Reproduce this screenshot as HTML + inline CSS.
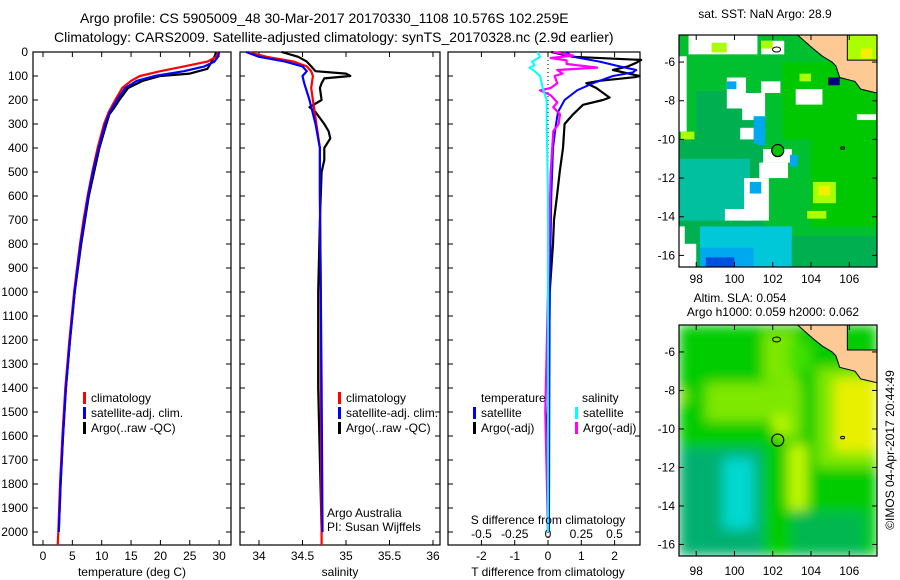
<!DOCTYPE html>
<html><head><meta charset="utf-8"><style>
html,body{margin:0;padding:0;background:#fff;width:900px;height:580px;overflow:hidden}
svg text{font-family:"Liberation Sans",sans-serif;font-size:12px;fill:#000}
</style></head><body>
<svg id="fig" width="900" height="580" xmlns="http://www.w3.org/2000/svg">
<text x="80" y="23" style="font-size:14px">Argo profile: CS 5905009_48 30-Mar-2017 20170330_1108 10.576S 102.259E</text>
<text x="54" y="42" style="font-size:14px">Climatology: CARS2009. Satellite-adjusted climatology: synTS_20170328.nc (2.9d earlier)</text>
</svg>
<script>
// ---------- data ----------
const depthTicks=[0,100,200,300,400,500,600,700,800,900,1000,1100,1200,1300,1400,1500,1600,1700,1800,1900,2000];
const tempTicks=[0,5,10,15,20,25,30];
const salTicks=[34,34.5,35,35.5,36];
const tdiffTicks=[-2,-1,0,1,2];
const sdiffTicks=[-0.5,-0.25,0,0.25,0.5];
const sdiffTickLabels=["-0.5","-0.25","0","0.25","0.5"];

const tClimDepth=[0,20,40,60,80,100,120,150,200,250,300,400,500,600,700,800,900,1000,1200,1400,1600,1800,2000,2054];
const tClim=[29.8,29.5,28,24,20,16.5,15,13.5,12.3,11.2,10.4,9.3,8.4,7.6,6.9,6.3,5.8,5.3,4.5,3.8,3.3,2.9,2.6,2.5];
const tSatDepth=[0,20,40,60,80,100,120,150,200,250,300,400,500,600,800,1000,1200,1400,1600,1800,2000];
const tSat=[30,29.8,29.2,27.5,24,19,16,14,12.6,11.4,10.6,9.5,8.5,7.7,6.4,5.4,4.6,3.9,3.4,3.0,2.7];
const tArgoDepth=[0,20,50,70,90,100,120,150,200,230,260,300,400,500,600,800,1000,1200,1400,1600,1800,1990];
const tArgo=[29.5,29.2,28.5,28,25,20,17,14.5,13,12.2,11.3,10.8,9.6,8.7,7.8,6.5,5.4,4.6,3.9,3.4,3.0,2.7];

const sClimDepth=[0,20,40,60,80,100,150,200,300,400,600,1000,1400,2000,2054];
const sClim=[33.87,34.09,34.4,34.55,34.6,34.62,34.6,34.62,34.66,34.7,34.7,34.71,34.71,34.72,34.72];
const sSatDepth=[0,20,40,60,80,100,130,200,300,400,600,1000,1400,2000];
const sSat=[33.85,34.0,34.3,34.5,34.55,34.5,34.52,34.58,34.65,34.7,34.7,34.71,34.72,34.73];
const sArgoDepth=[0,20,40,60,80,90,100,110,130,150,200,230,250,300,330,360,400,450,500,700,1000,1400,1700,1990];
const sArgo=[34.26,34.45,34.55,34.6,34.65,35.0,35.05,34.75,34.72,34.7,34.72,34.58,34.65,34.75,34.8,34.82,34.75,34.75,34.72,34.7,34.68,34.68,34.7,34.72];

const dTArgoDepth=[0,20,33,45,60,75,100,105,120,130,150,190,200,220,260,300,400,500,600,700,800,1000,1400,1650,1700,2000];
const dTArgo=[0.1,0.75,2.8,2.65,2.4,1.95,2.75,2.6,1.55,1.15,1.45,1.85,1.65,1.05,0.75,0.5,0.45,0.35,0.27,0.18,0.15,0.05,0.02,-0.05,0.0,0.0];
const dTSatDepth=[0,20,40,60,75,85,100,130,160,200,250,300,400,600,1000,1500,2000];
const dTSat=[0.55,0.75,1.55,2.15,2.65,2.55,1.95,1.35,0.87,0.5,0.3,0.24,0.15,0.1,0.05,0.04,0.03];
const dSArgoDepth=[0,15,25,35,50,65,75,90,100,130,150,160,180,210,230,260,300,330,500,1000,1500,2000];
const dSArgo=[0.04,0.19,0.02,0.14,0.14,0.37,0.07,0.11,0.05,0.07,0.02,-0.06,0.02,0.07,0.04,0.09,0.08,0.04,0.02,0.0,-0.02,0.0];
const dSSatDepth=[0,20,40,55,65,80,100,150,200,300,600,1000,2000];
const dSSat=[-0.08,-0.06,-0.12,-0.1,-0.14,-0.1,-0.06,-0.04,-0.01,-0.01,0.0,0.0,0.0];

const lonTicks=[98,100,102,104,106];
const latTicks=[-6,-8,-10,-12,-14,-16];
// SST map patches: [lon0,lat0,lon1,lat1,colorIndex]
const sstColors=["#00c030","#00b050","#00c0a0","#00a8f0","#0050e0","#ffffff","#aaff00","#f0f000","#000080","#00c8d8","#00c800"];
const sstPatches=[
[97.1,-4.6,107.45,-16.6,0],
[102.5,-6,107.45,-10,10],[104,-10,107.45,-14.5,10],[98,-7.5,101,-10,1],
[97.1,-10,101.5,-16.6,1],[97.1,-11,100.8,-14.2,2],[98.2,-14.5,103,-16.6,9],[98.2,-15.6,101,-16.6,3],[98.5,-16.1,100,-16.6,4],[103,-15,107.45,-16.6,1],
[105.9,-4.6,107.45,-5.9,6],[106.6,-5.3,107.2,-5.8,7],
[97.6,-4.6,101.2,-5.6,5],[97.1,-5.7,97.5,-9.6,5],[99.6,-6.8,100.6,-8.4,5],[100.4,-7.6,101.6,-9,5],[101.4,-7,102.4,-7.6,5],[100.3,-9.4,101.2,-10,5],
[101.5,-10.5,103,-11.2,5],[101.3,-11.2,102.8,-12,5],[100.5,-12,101.8,-14.2,5],[99.5,-13.6,100.8,-14.2,5],[97.1,-14.5,97.4,-16.6,5],[97.1,-15.4,98,-16.6,5],
[103.2,-7.4,104.6,-8.2,5],[101.4,-4.9,102.6,-5.6,5],[106.4,-8.7,107.4,-9.0,5],
[98.8,-5,99.6,-5.5,6],[101.4,-4.9,102,-5.3,6],[97.2,-9.6,97.9,-10,6],[103.4,-6.6,104,-7,6],[104.1,-12.2,105.3,-13.3,6],[104.4,-12.4,105,-12.9,7],
[103.8,-13.7,104.8,-14.1,6],[104.9,-6.8,105.5,-7.2,8],
[101,-8.8,101.6,-10.2,3],[102.9,-10.8,103.3,-11.4,3],[100.8,-12.2,101.4,-12.8,3],[99.6,-7,100.1,-7.4,3],[101.2,-9.4,101.6,-10.3,3]
];
// SLA map blobs: [lon0,lat0,lon1,lat1,colorIndex]
const slaColors=["#00cc00","#7ee800","#c0f800","#e8f000","#00d8d0","#00b070","#00b850","#40e000"];
const slaPatches=[
[97.1,-4.6,107.45,-16.6,0],
[97.1,-11,101.5,-16.6,5],[99.4,-11.5,101,-15.2,4],[99.8,-12.3,100.8,-14,4],[103,-14.3,106.8,-16.6,6],
[98.5,-7.6,102.6,-9.6,1],[97.1,-8,97.6,-8.6,1],[101.5,-5,103.2,-7.5,1],[102.2,-7.5,103.5,-10.5,1],[104.3,-6.8,107.45,-12,1],
[102.8,-10.8,103.8,-14.2,2],[105.2,-7.4,107.45,-11.2,3],[102,-9.3,102.8,-10.2,2],[102.8,-5.5,104,-7,7]
];
const argoLon=102.26, argoLat=-10.576;

// ---------- helpers ----------
const NS="http://www.w3.org/2000/svg";
const svg=document.getElementById('fig');
function mk(tag,attrs,parent){const e=document.createElementNS(NS,tag);for(const k in attrs)e.setAttribute(k,attrs[k]);(parent||svg).appendChild(e);return e;}
function txt(x,y,s,anchor,parent){const t=mk('text',{x:x,y:y,'text-anchor':anchor||'start'},parent);t.textContent=s;return t;}

const PT=52, PB=545;
const yD=d=>PT+d*0.24;
const panels=[{x0:33,x1:231},{x0:240,x1:440},{x0:448,x1:640}];
const xT=v=>43+v*5.87, xS=v=>259+(v-34)*87, xTd=v=>548+v*33.3, xSd=v=>548+v*133;

panels.forEach((p,i)=>{
  const r=mk('rect',{x:p.x0,y:PT,width:p.x1-p.x0,height:PB-PT,fill:'none',stroke:'#000','stroke-width':1.2});
  
  
  depthTicks.forEach(d=>{
    mk('line',{x1:p.x0,x2:p.x0+5,y1:yD(d),y2:yD(d),stroke:'#000'});
    mk('line',{x1:p.x1-5,x2:p.x1,y1:yD(d),y2:yD(d),stroke:'#000'});
  });
});
depthTicks.forEach(d=>{const t=txt(28,yD(d)+4,String(d),'end');
  
  });

function xAxis(ticks,fx,labels,ly){
  ticks.forEach((v,i)=>{const x=fx(v);
    mk('line',{x1:x,x2:x,y1:PB-5,y2:PB,stroke:'#000'});
    mk('line',{x1:x,x2:x,y1:PT,y2:PT+5,stroke:'#000'});
    const t=txt(x,ly,labels?labels[i]:String(v),'middle');
    
    
  });
}
xAxis(tempTicks,xT,null,560);
xAxis(salTicks,xS,null,560);
xAxis(tdiffTicks,xTd,null,560);
sdiffTicks.forEach((v,i)=>{const t=txt(xSd(v),538,sdiffTickLabels[i],'middle');
  
  });

function line(depths,vals,fx,color,w,name){
  const pts=depths.map((d,i)=>fx(vals[i]).toFixed(1)+','+yD(d).toFixed(1)).join(' ');
  const pl=mk('polyline',{points:pts,fill:'none',stroke:color,'stroke-width':w,'stroke-linejoin':'round'});
  
  
}
mk('line',{x1:xTd(0),x2:xTd(0),y1:PT,y2:PB,stroke:'#000','stroke-dasharray':'1,3'});

line(tArgoDepth,tArgo,xT,'#000',2.2,'temp-argo-line');
line(tClimDepth,tClim,xT,'#ff0000',2.2,'temp-climatology-line');
line(tSatDepth,tSat,xT,'#0000ff',2.2,'temp-satellite-line');
line(sArgoDepth,sArgo,xS,'#000',2.2,'sal-argo-line');
line(sClimDepth,sClim,xS,'#ff0000',2.2,'sal-climatology-line');
line(sSatDepth,sSat,xS,'#0000ff',2.2,'sal-satellite-line');
line(dTArgoDepth,dTArgo,xTd,'#000',2.2,'tdiff-argo-line');
line(dTSatDepth,dTSat,xTd,'#0000ff',2,'tdiff-satellite-line');
line(dSArgoDepth,dSArgo,xSd,'#ff00ff',2.2,'sdiff-argo-line');
line(dSSatDepth,dSSat,xSd,'#00ffff',2,'sdiff-satellite-line');

function legend(x,y,color,label){
  const g=mk('g',{});
  
  
  mk('rect',{x:x,y:y-10,width:3,height:12,fill:color},g);
  txt(x+8,y,label,'start',g);
}
[[83,'#ff0000','climatology'],[83,'#0000ff','satellite-adj. clim.'],[83,'#000','Argo(..raw -QC)']].forEach((e,i)=>legend(e[0],402+i*15,e[1],e[2]));
[[338,'#ff0000','climatology'],[338,'#0000ff','satellite-adj. clim.'],[338,'#000','Argo(..raw -QC)']].forEach((e,i)=>legend(e[0],402+i*15,e[1],e[2]));
txt(481,402,'temperature'); txt(582,402,'salinity');
legend(473,417,'#0000ff','satellite'); legend(473,432,'#000','Argo(-adj)');
legend(575,417,'#00ffff','satellite'); legend(575,432,'#ff00ff','Argo(-adj)');
txt(327,517,'Argo Australia'); txt(327,531,'PI: Susan Wijffels');
txt(548,524,'S difference from climatology','middle');
txt(132,576,'temperature (deg C)','middle');
txt(340,576,'salinity','middle');
txt(548,576,'T difference from climatology','middle');

// ---------- maps ----------
const coast=[[103.3,-4.6],[105.9,-4.6],[105.9,-5.9],[107.45,-5.9],[107.45,-7.6],[106.6,-7.4],[106.3,-7.0],[105.5,-6.8],[105.3,-6.2],[105.1,-6.0],[104.6,-5.7],[104.1,-5.3]];
function drawMap(x0,y0,x1,y1,colors,patches,name,blur,filled,labY){
  const lx=l=>x0+(l-97.1)/(107.45-97.1)*(x1-x0);
  const ly=l=>y0+(-4.6-l)/(16.6-4.6)*(y1-y0);
  const g=mk('g',{});
  
  
  const clip=mk('clipPath',{id:name+'-clip'},g);
  mk('rect',{x:x0,y:y0,width:x1-x0,height:y1-y0},clip);
  const inner=mk('g',{'clip-path':'url(#'+name+'-clip)'},g);
  let tgt=inner;
  if(blur){const f=mk('filter',{id:name+'-blur',x:'-10%',y:'-10%',width:'120%',height:'120%'},g);
    mk('feGaussianBlur',{stdDeviation:6},f);
    tgt=mk('g',{filter:'url(#'+name+'-blur)'},inner);}
  patches.forEach(p=>{
    const c=mk('rect',{x:lx(p[0]),y:ly(p[1]),width:lx(p[2])-lx(p[0]),height:ly(p[3])-ly(p[1]),fill:colors[p[4]]},tgt);
    
    
  });
  const lp=mk('polygon',{points:coast.map(c=>lx(c[0])+','+ly(c[1])).join(' '),fill:'#fdca96',stroke:'#000','stroke-width':1},inner);
  
  
  mk('ellipse',{cx:lx(102.2),cy:ly(-5.35),rx:4,ry:2.5,fill:'none',stroke:'#000'},inner);
  mk('ellipse',{cx:lx(105.65),cy:ly(-10.45),rx:2,ry:1.2,fill:'none',stroke:'#000'},inner);
  const ap=mk('circle',{cx:lx(argoLon),cy:ly(argoLat),r:6,fill:filled?'#00c400':'none',stroke:'#000','stroke-width':1.2},g);
  
  
  mk('rect',{x:x0,y:y0,width:x1-x0,height:y1-y0,fill:'none',stroke:'#000','stroke-width':1.2},g);
  lonTicks.forEach(l=>{const x=lx(l);
    mk('line',{x1:x,x2:x,y1:y0,y2:y0+5,stroke:'#000'},g);
    mk('line',{x1:x,x2:x,y1:y1-5,y2:y1,stroke:'#000'},g);
    txt(x,labY,String(l),'middle',g);});
  latTicks.forEach(l=>{const y=ly(l);
    mk('line',{x1:x0,x2:x0+5,y1:y,y2:y,stroke:'#000'},g);
    mk('line',{x1:x1-5,x2:x1,y1:y,y2:y,stroke:'#000'},g);
    txt(675,y+4,String(l),'end',g);});
}
drawMap(679,35,877,267,sstColors,sstPatches,'sst-map',false,true,283);
drawMap(679,325,877,556,slaColors,slaPatches,'sla-map',true,false,575);
txt(765,18,'sat. SST: NaN Argo: 28.9','middle');
txt(740,302,'Altim. SLA: 0.054','middle');
txt(773,316,'Argo h1000: 0.059 h2000: 0.062','middle');
const rt=txt(0,0,'©IMOS 04-Apr-2017 20:44:49','middle');
rt.setAttribute('transform','translate(894,450) rotate(-90)');


</script>
</body></html>
